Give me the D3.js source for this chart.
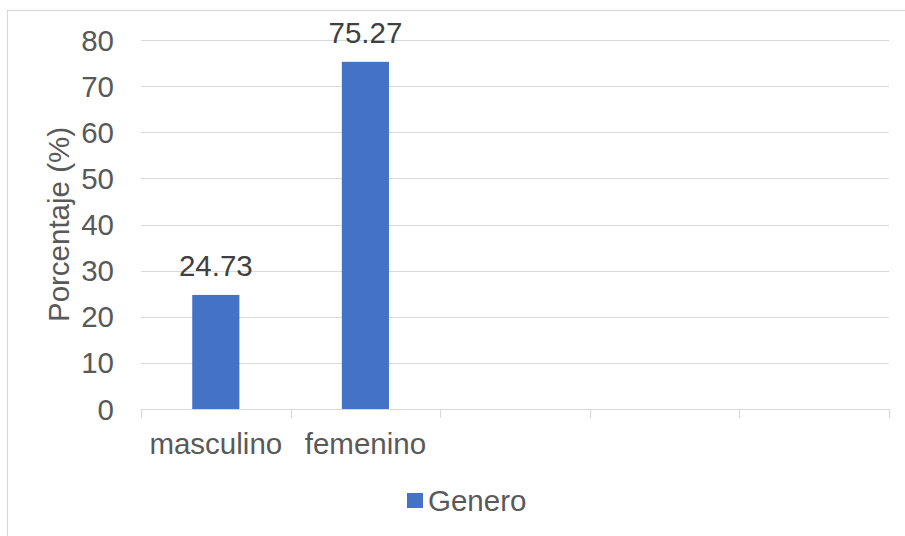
<!DOCTYPE html>
<html>
<head>
<meta charset="utf-8">
<script src="https://cdn.jsdelivr.net/npm/d3@7"></script>
<style>
  html, body { margin: 0; padding: 0; background: #ffffff; }
  svg { display: block; }
  text { font-family: "Liberation Sans", Arial, sans-serif; }
</style>
</head>
<body>
<svg id="chart" width="905" height="536"></svg>
<script>
// Gender distribution (percent)
const categories = ["masculino", "femenino", "", "", ""];
const values = [24.73, 75.27, null, null, null];
const yTicks = [0, 10, 20, 30, 40, 50, 60, 70, 80];
const seriesName = "Genero";
const yTitle = "Porcentaje (%)";

const W = 905, H = 536;
const plot = { left: 141, right: 889, top: 40, bottom: 409 };
const gridColor = "#d9d9d9";
const barColor = "#4472c4";
const fontSize = 29.5;

const svg = d3.select("#chart");

// chart frame
svg.append("rect")
  .attr("x", 7.5).attr("y", 10.5)
  .attr("width", W + 10).attr("height", H + 10)
  .attr("fill", "none").attr("stroke", gridColor).attr("stroke-width", 1.2);

const slots = categories.map((c, i) => i);
const x = d3.scaleBand()
  .domain(slots)
  .range([plot.left, plot.right])
  .paddingInner(0.685)
  .paddingOuter(0.3425);

const slot = d3.scaleBand().domain(slots).range([plot.left, plot.right]);

const y = d3.scaleLinear().domain([0, 80]).range([plot.bottom, plot.top]);

// horizontal gridlines
svg.append("g")
  .selectAll("line")
  .data(yTicks.filter(t => t > 0))
  .join("line")
  .attr("x1", plot.left).attr("x2", plot.right)
  .attr("y1", d => Math.round(y(d)) + 0.5).attr("y2", d => Math.round(y(d)) + 0.5)
  .attr("stroke", gridColor).attr("stroke-width", 1.2);

// y tick labels
svg.append("g")
  .selectAll("text")
  .data(yTicks)
  .join("text")
  .attr("x", 114)
  .attr("y", d => y(d))
  .attr("dy", "0.36em")
  .attr("text-anchor", "end")
  .attr("font-size", fontSize)
  .attr("fill", "#595959")
  .text(d => d);

// bars
svg.append("g")
  .selectAll("rect")
  .data(values.map((v, i) => ({ i, v })).filter(d => d.v != null))
  .join("rect")
  .attr("x", d => x(d.i))
  .attr("width", x.bandwidth())
  .attr("y", d => y(d.v))
  .attr("height", d => y(0) - y(d.v))
  .attr("fill", barColor);

// category axis line and ticks
const xAxis = svg.append("g");
xAxis.append("line")
  .attr("x1", plot.left).attr("x2", plot.right)
  .attr("y1", plot.bottom + 0.5).attr("y2", plot.bottom + 0.5)
  .attr("stroke", gridColor).attr("stroke-width", 1.2);
const tickXs = slots.map(i => slot(i)).concat([plot.right]);
xAxis.selectAll("line.tick")
  .data(tickXs)
  .join("line")
  .attr("class", "tick")
  .attr("x1", d => Math.round(d) + 0.5).attr("x2", d => Math.round(d) + 0.5)
  .attr("y1", plot.bottom).attr("y2", plot.bottom + 9)
  .attr("stroke", gridColor).attr("stroke-width", 1.2);

// category labels
svg.append("g")
  .selectAll("text")
  .data(categories.map((c, i) => ({ c, i })).filter(d => d.c))
  .join("text")
  .attr("x", d => slot(d.i) + slot.bandwidth() / 2)
  .attr("y", 454)
  .attr("text-anchor", "middle")
  .attr("font-size", fontSize)
  .attr("fill", "#595959")
  .text(d => d.c);

// value labels
svg.append("g")
  .selectAll("text")
  .data(values.map((v, i) => ({ i, v })).filter(d => d.v != null))
  .join("text")
  .attr("x", d => x(d.i) + x.bandwidth() / 2)
  .attr("y", d => y(d.v) - 19)
  .attr("text-anchor", "middle")
  .attr("font-size", fontSize)
  .attr("fill", "#404040")
  .text(d => d.v.toFixed(2));

// y axis title
svg.append("text")
  .attr("transform", `translate(69, ${(plot.top + plot.bottom) / 2}) rotate(-90)`)
  .attr("text-anchor", "middle")
  .attr("font-size", fontSize)
  .attr("fill", "#595959")
  .text(yTitle);

// legend
const legend = svg.append("g");
legend.append("rect")
  .attr("x", 407).attr("y", 493)
  .attr("width", 16).attr("height", 15)
  .attr("fill", barColor);
legend.append("text")
  .attr("x", 428).attr("y", 511)
  .attr("font-size", fontSize)
  .attr("fill", "#595959")
  .text(seriesName);
</script>
</body>
</html>
